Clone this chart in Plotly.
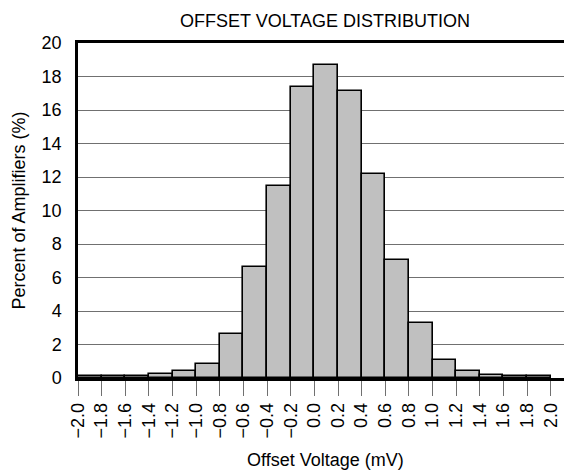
import plotly.graph_objects as go

bin_centers = [-1.9, -1.7, -1.5, -1.3, -1.1, -0.9, -0.7, -0.5, -0.3, -0.1,
               0.1, 0.3, 0.5, 0.7, 0.9, 1.1, 1.3, 1.5, 1.7, 1.9]
percent = [0.1, 0.1, 0.1, 0.26, 0.42, 0.82, 2.6, 6.6, 11.45, 17.4,
           18.7, 17.15, 12.15, 7.02, 3.3, 1.05, 0.42, 0.2, 0.1, 0.1]
tick_vals = [-2.0, -1.8, -1.6, -1.4, -1.2, -1.0, -0.8, -0.6, -0.4, -0.2, 0.0,
             0.2, 0.4, 0.6, 0.8, 1.0, 1.2, 1.4, 1.6, 1.8, 2.0]
tick_text = ["\u22122.0", "\u22121.8", "\u22121.6", "\u22121.4", "\u22121.2", "\u22121.0",
             "\u22120.8", "\u22120.6", "\u22120.4", "\u22120.2", "0.0", "0.2", "0.4", "0.6",
             "0.8", "1.0", "1.2", "1.4", "1.6", "1.8", "2.0"]
y_ticks = [0, 2, 4, 6, 8, 10, 12, 14, 16, 18, 20]

FONT = "Liberation Sans, Arial, sans-serif"
OFF = 8  # page body margin offset
W, H = 572, 473
ML, MT = 78 - OFF, 43 - OFF
PLOT_BOTTOM = 378 - OFF
PLOT_RIGHT = 572 - OFF
MB = H - PLOT_BOTTOM
MR = W - PLOT_RIGHT
PH = PLOT_BOTTOM - MT
PW = PLOT_RIGHT - ML

fig = go.Figure()
fig.add_trace(go.Bar(
    x=bin_centers, y=percent, width=0.2,
    marker=dict(color="#C0C0C0", line=dict(color="black", width=1.6)),
    showlegend=False,
))

fig.update_layout(
    width=W, height=H,
    margin=dict(l=ML, r=MR, t=MT, b=MB, autoexpand=False),
    paper_bgcolor="white", plot_bgcolor="white",
    font=dict(family=FONT, size=18, color="black"),
    bargap=0,
    title=dict(text="OFFSET VOLTAGE DISTRIBUTION", x=0.5, xref="paper",
               y=1 - (20.5 - OFF) / H, yref="container", yanchor="middle", xanchor="center",
               font=dict(family=FONT, size=18, color="black")),
    xaxis=dict(
        range=[-2.0, 2.18], tickmode="array", tickvals=tick_vals, ticktext=tick_text,
        tickangle=-90, ticks="outside", ticklen=15, tickwidth=1, tickcolor="#707070",
        showgrid=False, zeroline=False, automargin=False,
        showline=True, linecolor="black", linewidth=2.5, mirror=True,
        tickfont=dict(family=FONT, size=18, color="black"),
    ),
    yaxis=dict(
        range=[0, 20], tickmode="array", tickvals=y_ticks,
        ticks="", ticklabelstandoff=10, automargin=False,
        showgrid=True, gridcolor="#707070", gridwidth=1,
        zeroline=False, showline=True, linecolor="black", linewidth=2.5,
        tickfont=dict(family=FONT, size=18, color="black"),
    ),
    annotations=[
        dict(text="Offset Voltage (mV)", xref="paper", yref="paper",
             x=0.5, y=(PLOT_BOTTOM - (460 - OFF)) / PH, xanchor="center", yanchor="middle",
             showarrow=False, font=dict(family=FONT, size=18, color="black")),
        dict(text="Percent of Amplifiers (%)", xref="paper", yref="paper",
             x=((18 - OFF) - ML) / PW, y=0.5, xanchor="center", yanchor="middle",
             textangle=-90, showarrow=False,
             font=dict(family=FONT, size=18, color="black")),
    ],
)

fig.write_html("out.html")
